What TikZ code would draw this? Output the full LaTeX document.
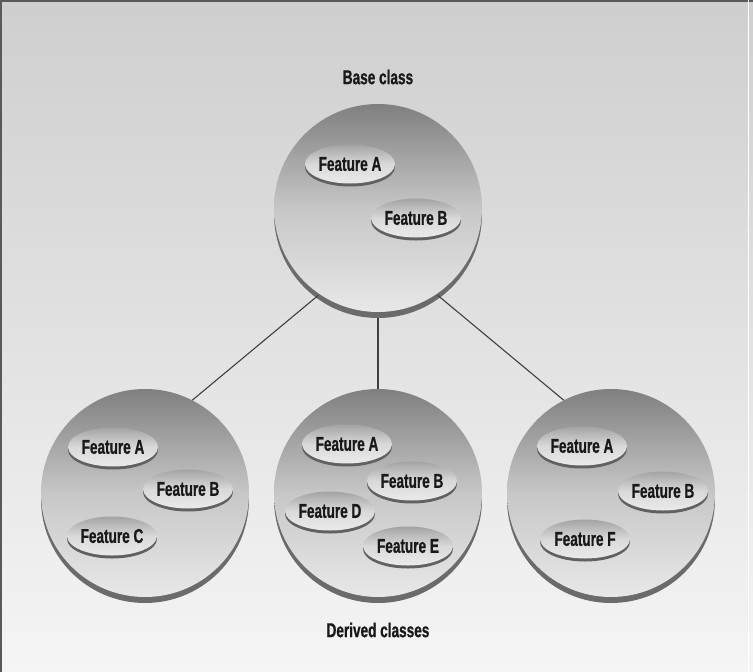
\documentclass[tikz,border=0pt]{standalone}
\usepackage{fontspec}
\newfontfamily\featfont[FakeStretch=0.68,FakeBold=0.8]{Liberation Sans}
\usetikzlibrary{shapes.geometric,shadows}

\begin{document}
\begin{tikzpicture}[x=1pt,y=-1pt,
    classball/.style={circle, minimum size=208pt, inner sep=0pt,
        top color=black!50, bottom color=black!9, middle color=black!22,
        drop shadow={shadow xshift=0pt, shadow yshift=-6pt, fill=black!58, opacity=1}},
    featbox/.style={ellipse, minimum width=90pt, minimum height=39pt, inner sep=0pt,
        top color=black!36, bottom color=black!8, middle color=black!15,
        drop shadow={shadow xshift=0pt, shadow yshift=-3pt, fill=black!62, opacity=1},
        text=black!90, font=\featfont\bfseries\fontsize{20}{23}\selectfont},
    caption/.style={text=black!90, font=\featfont\bfseries\fontsize{20}{23}\selectfont},
    link/.style={draw=black!75, line width=1.1pt}]

    % --- Canvas and frame ---
    \useasboundingbox (0,0) rectangle (753,672);
    \shade[top color=black!19, bottom color=black!4] (0,0) rectangle (753,672);
    \draw[black!65, line width=2pt] (1,672) -- (1,1) -- (753,1);
    \draw[white, line width=1pt] (748,0) -- (748,672);

    % --- Class circles ---
    \node[classball] (base)  at (378,208) {};
    \node[classball] (left)  at (145,493) {};
    \node[classball] (mid)   at (378,493) {};
    \node[classball] (right) at (611,493) {};

    % --- Inheritance lines ---
    \draw[link] ([yshift=-2pt]base.235) -- (left.63);
    \draw[link] ([yshift=-6pt]base.south) -- (mid.north);
    \draw[link] ([yshift=-2pt]base.-55) -- (right.117);

    % --- Features of the base class ---
    \node[featbox] (baseA) at (350,164) {Feature A};
    \node[featbox] (baseB) at (416,218) {Feature B};

    % --- Features of the derived classes ---
    \node[featbox] (leftA) at (113,447) {Feature A};
    \node[featbox] (leftB) at (188,489) {Feature B};
    \node[featbox] (leftC) at (112,536) {Feature C};

    \node[featbox] (midA) at (347,444) {Feature A};
    \node[featbox] (midB) at (412,481) {Feature B};
    \node[featbox] (midD) at (330,511) {Feature D};
    \node[featbox] (midE) at (408,546) {Feature E};

    \node[featbox] (rightA) at (582,446) {Feature A};
    \node[featbox] (rightB) at (663,491) {Feature B};
    \node[featbox] (rightF) at (585,539) {Feature F};

    % --- Captions ---
    \node[caption] (basetitle)    at (378,77)  {Base class};
    \node[caption] (derivedtitle) at (378,630) {Derived classes};

\end{tikzpicture}
\end{document}
